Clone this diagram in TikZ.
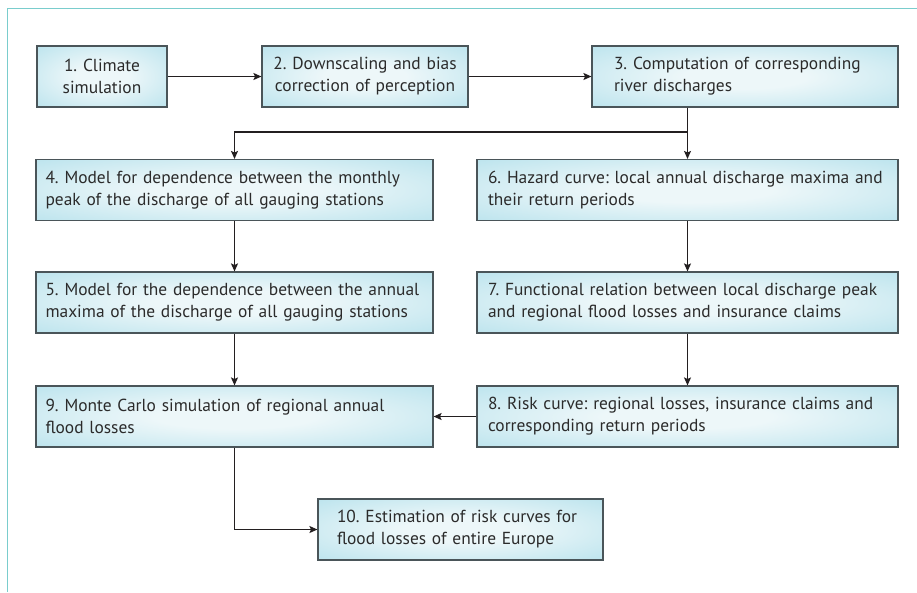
\documentclass[tikz,border=0pt]{standalone}
\usepackage{fontspec}
\setmainfont{PT Sans}
\usepackage{xcolor}
\usetikzlibrary{arrows.meta,positioning}
\definecolor{floodframe}{HTML}{7ACDCD}
\definecolor{floodedge}{HTML}{4A5559}
\definecolor{floodouter}{HTML}{ADDEEA}
\definecolor{floodinner}{HTML}{EDF7F9}
\definecolor{floodtext}{HTML}{2B2B2B}
\definecolor{floodline}{HTML}{231F20}
\pgfdeclareradialshading{floodglow}{\pgfpoint{0bp}{0bp}}{%
    color(0bp)=(floodinner); color(10bp)=(floodinner);
    color(44bp)=(floodouter); color(50bp)=(floodouter)}
\frenchspacing
\hyphenpenalty=10000

\begin{document}
\begin{tikzpicture}[
        x=1pt, y=1pt,
        stage/.style={
            draw=floodedge,
            line width=1.1pt,
            shading=floodglow,
            minimum height=61pt,
            inner ysep=0pt,
            text=floodtext,
            font=\fontsize{17.4}{22}\selectfont
        },
        leftstage/.style={stage, align=left},
        centrestage/.style={stage, align=center},
        flow/.style={-{Stealth[length=8pt,width=7pt,inset=1.5pt]},line width=1.2pt,floodline}
    ]
        \useasboundingbox (0,0) rectangle (917,-592);
        % frame
        \draw[floodframe, line width=1.3pt] (917,-8.5) -- (7.5,-8.5) -- (7.5,-592);

        \node[centrestage, text width=124pt, inner xsep=3pt] (climate) at (102,-76.5) {1. Climate\\simulation};
        \node[centrestage, text width=200pt, inner xsep=3pt] (downscale) at (365,-76.5) {2. Downscaling and bias\\correction of perception};
        \node[leftstage, text width=262pt, inner xsep=22pt] (discharge) at (745,-76.5) {3. Computation of corresponding\\river discharges};

        \node[leftstage, text width=378pt, inner xsep=9.5pt] (monthly) at (234.5,-190) {4. Model for dependence between the monthly\\peak of the discharge of all gauging stations};
        \node[leftstage, text width=378pt, inner xsep=9.5pt] (annual) at (234.5,-302.5) {5. Model for the dependence between the annual\\maxima of the discharge of all gauging stations};
        \node[leftstage, text width=378pt, inner xsep=9.5pt] (montecarlo) at (234.5,-416.5) {9. Monte Carlo simulation of regional annual\\flood losses};

        \node[leftstage, text width=399pt, inner xsep=11pt] (hazard) at (687.5,-190) {6. Hazard curve: local annual discharge maxima and\\their return periods};
        \node[leftstage, text width=399pt, inner xsep=11pt] (relation) at (687.5,-302.5) {7. Functional relation between local discharge peak\\and regional flood losses and insurance claims};
        \node[leftstage, text width=399pt, inner xsep=11pt] (risk) at (687.5,-416.5) {8. Risk curve: regional losses, insurance claims and\\corresponding return periods};

        \node[leftstage, text width=247pt, inner xsep=19pt] (europe) at (460.5,-529.5) {10. Estimation of risk curves for\\flood losses of entire Europe};

        \coordinate (split) at (687.5,-132);

        \draw[flow] (climate) -- (downscale);
        \draw[flow] (downscale) -- (discharge);
        \draw[flow] (discharge.south -| hazard.north) -- (hazard.north);
        \draw[flow] (split) -| (monthly.north);
        \draw[flow] (monthly) -- (annual);
        \draw[flow] (annual) -- (montecarlo);
        \draw[flow] (hazard) -- (relation);
        \draw[flow] (relation) -- (risk);
        \draw[flow] (risk) -- (montecarlo);
        \draw[flow] (montecarlo.south) |- (europe.west);
    \end{tikzpicture}
\end{document}
